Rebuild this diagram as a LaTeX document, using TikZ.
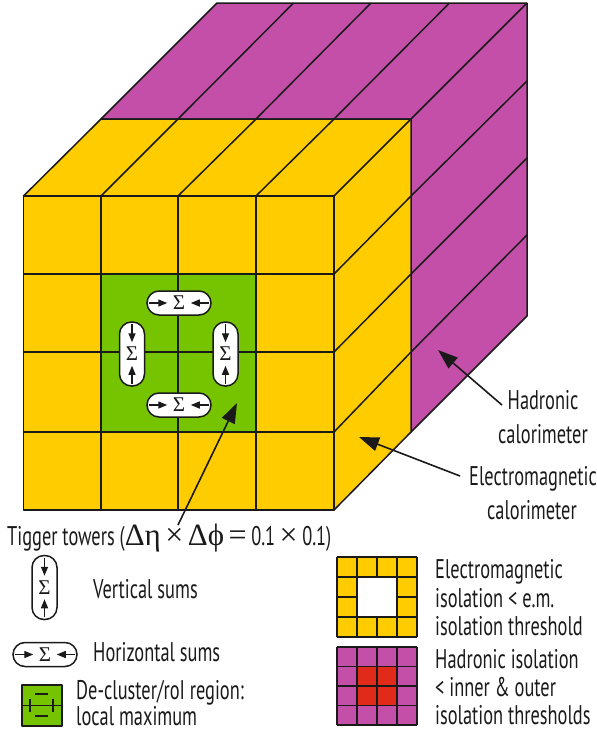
\documentclass[tikz,border=0pt]{standalone}
\usepackage{fontspec}
\setmainfont[FakeStretch=0.68]{PT Sans}
\newfontfamily\grk{Liberation Serif}
\usetikzlibrary{arrows.meta,calc}
\definecolor{cyel}{HTML}{FFCC00}
\definecolor{cpur}{HTML}{C44FA8}
\definecolor{cgrn}{HTML}{76C400}
\definecolor{cred}{HTML}{E02B1B}
\definecolor{cink}{HTML}{1A1A1A}
\tikzset{
  x=1pt,y=-1pt,
  edge/.style={draw=cink,line width=1.5pt,line join=round},
  bigarrow/.style={draw=cink,line width=1.6pt,-{Triangle[length=20pt,width=14pt]}},
  tinyarrow/.style={draw=cink,line width=1.4pt,-{Triangle[length=9pt,width=7pt]}},
  label/.style={text=cink,font=\fontsize{27}{27}\selectfont,inner sep=0pt,text height=16pt,text depth=0pt},
  hpill/.style={draw=cink,fill=white,line width=1.5pt,minimum width=64pt,minimum height=24pt,rounded corners=12pt,inner sep=0pt},
  vpill/.style={draw=cink,fill=white,line width=1.5pt,minimum width=25pt,minimum height=64pt,rounded corners=12pt,inner sep=0pt},
  sigma/.style={font=\grk\fontsize{21}{21}\selectfont,text=cink}
}
\newcommand{\hsum}[3]{%
  \node[hpill,sigma] (#1) at (#2,#3) {Σ};
  \draw[tinyarrow] ([xshift=3pt]#1.west) -- ++(18,0);
  \draw[tinyarrow] ([xshift=-3pt]#1.east) -- ++(-18,0);
}
\newcommand{\vsum}[3]{%
  \node[vpill,sigma] (#1) at (#2,#3) {Σ};
  \draw[tinyarrow] ([yshift=-3pt]#1.north) -- ++(0,18);
  \draw[tinyarrow] ([yshift=3pt]#1.south) -- ++(0,-18);
}
\newcommand{\bigsym}[1]{{\grk\fontsize{32}{32}\selectfont #1}}
\newcommand{\grksym}[1]{{\grk\fontsize{31}{31}\selectfont #1}}
\begin{document}
\begin{tikzpicture}
\useasboundingbox (0,0) rectangle (597,732);
% hadronic
\path[fill=cpur,edge] (101,119) -- (217,3) -- (527,3) -- (527,316) -- (411,432) -- (411,119) -- cycle;
\foreach \x/\u in {178/293.5,256/371,334/449.5,411/527}
  \draw[edge] (\x,119) -- (\u,3);
\foreach \a/\b in {196/81,274/158,352/235}
  \draw[edge] (411,\a) -- (527,\b);
% em top and side
\path[fill=cyel,edge] (23.5,196) -- (101,119) -- (411,119) -- (411,432) -- (334,510) -- (334,196) -- cycle;
\foreach \x/\u in {101/178,178/256,256/334,334/411}
  \draw[edge] (\x,196) -- (\u,119);
\foreach \a/\b in {274/196,352/274,432/352}
  \draw[edge] (334,\a) -- (411,\b);
% front
\path[fill=cyel,edge] (23.5,196) rectangle (334,510);
\path[fill=cgrn] (101,274) rectangle (256,432);
\foreach \x in {101,178,256}
  \draw[edge] (\x,196) -- (\x,510);
\foreach \y in {274,352,432}
  \draw[edge] (23.5,\y) -- (334,\y);
% sums
\hsum{st}{179}{303}
\hsum{sb}{179}{405}
\vsum{sl}{132}{354}
\vsum{sr}{225.5}{354}
% callouts
\coordinate (hadA) at (502,405); \coordinate (hadB) at (438,350);
\coordinate (emA) at (460,476); \coordinate (emB) at (359,437);
\coordinate (trA) at (178,525); \coordinate (trB) at (237,403);
\draw[bigarrow] (hadA) -- (hadB);
\draw[bigarrow] (emA) -- (emB);
\draw[bigarrow] (trA) -- (trB);
\node[label] (thad) at (543,401) {Hadronic};
\node[label] (thad2) at (543,435) {calorimeter};
\node[label] (tem) at (533,477) {Electromagnetic};
\node[label] (tem2) at (532,511) {calorimeter};
\node[label,anchor=west] (ttow) at (7,537) {Tigger towers (\grksym{Δη}\,\bigsym{×}\,\grksym{Δϕ}\,\bigsym{=}\,0.1\,\bigsym{×}\,0.1)};
% legend left
\vsum{lv}{44.5}{587.5}
\hsum{lh}{45}{654.5}
\node[label,anchor=west] (tv) at (93,590) {Vertical sums};
\node[label,anchor=west] (th) at (93,653) {Horizontal sums};
\path[fill=cgrn,edge] (22,685) rectangle (62,726);
\draw[edge] (22,705.5) -- (62,705.5);
\draw[edge] (30,699) -- (30,712);
\draw[edge] (53,699) -- (53,712);
\draw[edge] (35,694) -- (48,694);
\draw[edge] (35,716) -- (48,716);
\node[label,anchor=west] (td1) at (76,691) {De-cluster/roI region:};
\node[label,anchor=west] (td2) at (76,717) {local maximum};
% em iso
\path[fill=cyel] (337,557) rectangle (417,637);
\foreach \v in {0,20,...,80} {
  \draw[edge] (337+\v,557) -- (337+\v,637);
  \draw[edge] (337,557+\v) -- (417,557+\v);
}
\path[fill=white] (357,577) rectangle (397,617);
\draw[edge] (357,577) rectangle (397,617);
% had iso
\path[fill=cpur] (337,647) rectangle (417,725);
\path[fill=cred] (357,666.5) rectangle (397,705.5);
\foreach \v in {0,20,...,80}
  \draw[edge] (337+\v,647) -- (337+\v,725);
\foreach \v in {0,19.5,...,78}
  \draw[edge] (337,647+\v) -- (417,647+\v);
\node[label,anchor=west] (e1) at (435,570) {Electromagnetic};
\node[label,anchor=west] (e2) at (435,599) {isolation < e.m.};
\node[label,anchor=west] (e3) at (435,627) {isolation threshold};
\node[label,anchor=west] (h1) at (435,660) {Hadronic isolation};
\node[label,anchor=west] (h2) at (435,688) {< inner \& outer};
\node[label,anchor=west] (h3) at (435,716) {isolation thresholds};
\end{tikzpicture}
\end{document}
